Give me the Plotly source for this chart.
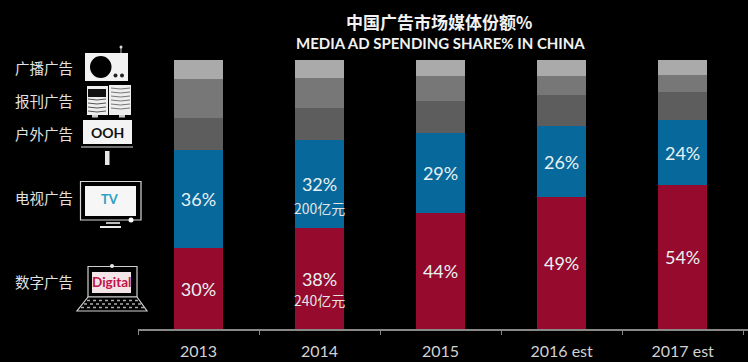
import plotly.graph_objects as go

W, H = 748, 362
L, R, T, B = 138, 748, 60, 329

years = ["2013", "2014", "2015", "2016 est", "2017 est"]
digital = [30.1, 37.5, 43.0, 49.0, 53.5]
tv = [36.4, 32.7, 29.7, 26.4, 24.2]
ooh = [12.0, 12.0, 12.0, 11.5, 10.4]
print_ = [14.5, 11.0, 9.3, 7.0, 6.4]
radio = [7.0, 6.8, 6.0, 6.1, 5.5]
digital_labels = ["30%", "38%", "44%", "49%", "54%"]
tv_labels = ["36%", "32%", "29%", "26%", "24%"]
side_labels = ["广播广告", "报刊广告", "户外广告", "电视广告", "数字广告"]
side_y = [67, 100, 133, 197, 281]

CJK = "Noto Sans CJK SC"
LAT = "Lato"


def px(x):
    return (x - L) / (R - L)


def py(y):
    return (B - y) / (B - T)


shapes = []


def box(x0, y0, x1, y1, fill="white", line=None, lw=1, kind="rect"):
    shapes.append(dict(type=kind, xref="paper", yref="paper", x0=px(x0), x1=px(x1), y0=py(y0), y1=py(y1),
                       fillcolor=fill, line=dict(color=line or "rgba(0,0,0,0)", width=lw), layer="above"))


def seg(x0, y0, x1, y1, color="white", lw=1):
    shapes.append(dict(type="line", xref="paper", yref="paper", x0=px(x0), x1=px(x1), y0=py(y0), y1=py(y1),
                       line=dict(color=color, width=lw), layer="above"))


def wave(x0, x1, y, color, lw=1):
    xm = (x0 + x1) / 2
    path = f"M {px(x0)} {py(y)} Q {px(xm)} {py(y + 2)} {px(x1)} {py(y)}"
    shapes.append(dict(type="path", xref="paper", yref="paper", path=path,
                       line=dict(color=color, width=lw), layer="above"))


# radio icon
box(85, 53, 128, 81, fill="#f2f2f2")
seg(121, 47, 121, 53, "#bbbbbb", 1)
box(119.5, 45.5, 122.5, 48.5, fill="#dddddd", kind="circle")
box(90, 56, 111.5, 78, fill="black", kind="circle")
box(113.5, 73.5, 117.5, 77.5, fill="#222222", kind="circle")
box(120, 73.5, 124, 77.5, fill="#222222", kind="circle")
# newspaper icon
box(87, 86, 108, 115, fill="#eeeeee")
box(109, 85, 131, 115, fill="#eeeeee")
box(88, 89, 106, 97, fill="#111111")
for yy in (99, 103, 107, 111):
    wave(88, 106, yy, "#555555")
for yy in (88, 92, 96, 100, 104, 108):
    wave(111, 130, yy, "#777777")
box(92, 115, 98, 117.5, fill="#cccccc")
box(119, 115, 125, 117.5, fill="#cccccc")
# billboard icon
box(83, 120, 132, 144, fill="#f4f4f4")
seg(81, 147, 133, 147, "#dddddd", 1)
box(105, 151, 109.5, 165, fill="#e8e8e8")
# TV icon
box(80.5, 181.5, 141, 220, fill="black", line="#d8d8d8", lw=1.2)
box(85, 186, 136, 216, fill="#f6f6f6")
box(128.5, 217.5, 133.5, 222.5, fill="white", kind="circle")
box(106, 222, 120, 224, fill="#bbbbbb")
box(100, 226, 121, 228, fill="#e8e8e8")
# laptop icon
box(88, 266.5, 137, 297, fill="black", line="#d0d0d0", lw=1.2)
box(92, 272, 131, 293, fill="#f3e4e8")
box(110, 264, 114, 268, fill="#e8e8e8", kind="circle")
shapes.append(dict(type="path", xref="paper", yref="paper",
                   path=f"M {px(88)} {py(297)} L {px(137)} {py(297)} L {px(147)} {py(311)} L {px(77)} {py(311)} Z",
                   fillcolor="black", line=dict(color="#d0d0d0", width=1.2), layer="above"))
for yy, x0, x1 in ((300.5, 87, 138), (304, 84, 141), (307.5, 81, 144)):
    shapes.append(dict(type="line", xref="paper", yref="paper", x0=px(x0), x1=px(x1), y0=py(yy), y1=py(yy),
                       line=dict(color="#aaaaaa", width=1.5, dash="dot"), layer="above"))

annotations = []


def note(text, x, y, size, color="#e6e6e6", family=CJK, bold=False, xanchor="center"):
    t = f"<b>{text}</b>" if bold else text
    annotations.append(dict(text=t, xref="paper", yref="paper", x=px(x), y=py(y), showarrow=False,
                            xanchor=xanchor, yanchor="middle", font=dict(size=size, color=color, family=family)))


note("中国广告市场媒体份额%", 439, 21, 17, "#f2f2f2", CJK, True)
note("MEDIA AD SPENDING SHARE% IN CHINA", 440, 43, 15, "#f2f2f2", LAT, True)
for label, yy in zip(side_labels, side_y):
    note(label, 44, yy, 14.5, "#e2e2e2")
note("OOH", 107.5, 132, 14, "#111111", LAT, True)
note("TV", 110, 199, 13, "#2f9fc4", LAT, True)
note("Digital", 111, 282, 13.5, "#c0144a", LAT, True)

for txt, yy in (("200亿元", 208), ("240亿元", 300)):
    annotations.append(dict(text=txt, xref="x", yref="paper", x=1, y=py(yy), showarrow=False,
                            yanchor="middle", font=dict(size=14, color="#e4e4e4", family=CJK)))

fig = go.Figure()
series = [
    ("数字广告", digital, "#950a2d", digital_labels),
    ("电视广告", tv, "#07689b", tv_labels),
    ("户外广告", ooh, "#5d5d5d", None),
    ("报刊广告", print_, "#777777", None),
    ("广播广告", radio, "#aaaaaa", None),
]
for name, vals, color, labels in series:
    fig.add_bar(name=name, x=years, y=vals, marker=dict(color=color, line=dict(width=0)), width=0.4,
                text=labels, textposition="inside" if labels else "none", insidetextanchor="middle",
                textangle=0, textfont=dict(size=18, color="#e9f1f3", family=LAT))

fig.update_layout(
    barmode="stack", width=W, height=H, autosize=False, showlegend=False,
    paper_bgcolor="black", plot_bgcolor="black",
    margin=dict(l=L, r=W - R, t=T, b=H - B, pad=0),
    shapes=shapes, annotations=annotations,
    xaxis=dict(type="category", range=[-0.5, 4.54], tickson="boundaries", ticks="outside", ticklen=4,
               tickwidth=1, tickcolor="#888888", showline=True, linecolor="#888888", linewidth=1.5,
               showgrid=False, zeroline=False, ticklabelstandoff=7,
               tickfont=dict(size=16, color="#d2d2d2", family=LAT)),
    yaxis=dict(range=[0, 100], visible=False, showgrid=False, zeroline=False),
)
fig.write_html("out.html", config=dict(displayModeBar=False),
               post_script="document.body.style.margin='0';document.body.style.background='black';")
